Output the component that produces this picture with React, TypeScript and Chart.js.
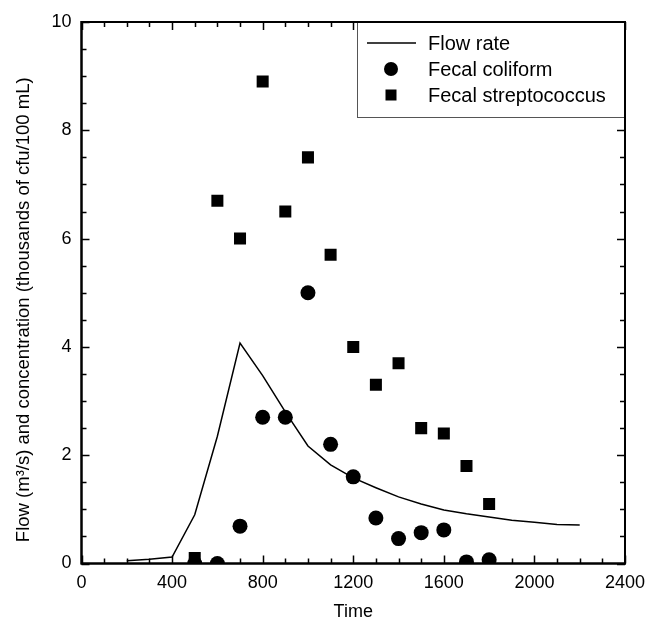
import React, { useEffect, useRef } from "react";
import { Chart, registerables } from "chart.js";

Chart.register(...registerables);

// ---- data ----
const flowTime = [200, 300, 400, 500, 600, 700, 800, 900, 1000, 1100, 1200, 1300, 1400, 1500, 1600, 1700, 1800, 1900, 2000, 2100, 2200];
const flowRate = [0.05, 0.08, 0.12, 0.9, 2.35, 4.07, 3.47, 2.8, 2.17, 1.82, 1.58, 1.4, 1.23, 1.1, 0.99, 0.92, 0.86, 0.8, 0.76, 0.72, 0.71];

const coliTime = [500, 600, 700, 800, 900, 1000, 1100, 1200, 1300, 1400, 1500, 1600, 1700, 1800];
const coliValues = [0.0, 0.0, 0.69, 2.7, 2.7, 5.0, 2.2, 1.6, 0.84, 0.46, 0.57, 0.62, 0.03, 0.07];

const strepTime = [500, 600, 700, 800, 900, 1000, 1100, 1200, 1300, 1400, 1500, 1600, 1700, 1800];
const strepValues = [0.1, 6.7, 6.0, 8.9, 6.5, 7.5, 5.7, 4.0, 3.3, 3.7, 2.5, 2.4, 1.8, 1.1];

const seriesLabels = ["Flow rate", "Fecal coliform", "Fecal streptococcus"];
const xTitle = "Time";
const yTitle = "Flow (m\u00B3/s) and concentration (thousands of cfu/100 mL)";

const xMin = 0, xMax = 2400, xMajor = 400, xMinor = 100;
const yMin = 0, yMax = 10, yMajor = 2, yMinor = 0.5;

const FONT = "'Liberation Sans', Arial, Helvetica, sans-serif";

const toPoints = (xs: number[], ys: number[]) => xs.map((x, i) => ({ x, y: ys[i] }));

function drawFrameAndTicks(chart: any, withTicks: boolean) {
  const { ctx, chartArea: a, scales } = chart;
  const xs = scales.x, ys = scales.y;
  ctx.save();
  ctx.strokeStyle = "#000";
  if (withTicks) {
    ctx.lineWidth = 1.5;
    ctx.beginPath();
    for (let v = xMin; v <= xMax + 1e-9; v += xMinor) {
      const px = Math.round(xs.getPixelForValue(v)) + 0.5;
      const len = Math.abs(v % xMajor) < 1e-6 ? 8 : 5;
      ctx.moveTo(px, a.bottom);
      ctx.lineTo(px, a.bottom - len);
      ctx.moveTo(px, a.top);
      ctx.lineTo(px, a.top + len);
    }
    for (let v = yMin; v <= yMax + 1e-9; v += yMinor) {
      const py = Math.round(ys.getPixelForValue(v)) + 0.5;
      const len = Math.abs(v % yMajor) < 1e-6 ? 8 : 5;
      ctx.moveTo(a.left, py);
      ctx.lineTo(a.left + len, py);
      ctx.moveTo(a.right, py);
      ctx.lineTo(a.right - len, py);
    }
    ctx.stroke();
  }
  ctx.lineWidth = 2;
  ctx.strokeRect(a.left, a.top, a.right - a.left, a.bottom - a.top);
  ctx.restore();
}

const framePlugin = {
  id: "frameTicks",
  beforeDatasetsDraw(chart: any) {
    drawFrameAndTicks(chart, true);
  },
};

const legendPlugin = {
  id: "boxLegend",
  afterDraw(chart: any) {
    const { ctx, chartArea: a } = chart;
    const bw = 268, bh = 95;
    const bx = a.right - bw, by = a.top;
    ctx.save();
    ctx.fillStyle = "#fff";
    ctx.fillRect(bx, by, bw, bh);
    ctx.strokeStyle = "#555";
    ctx.lineWidth = 1;
    ctx.strokeRect(bx + 0.5, by + 0.5, bw, bh);

    const rows = [by + 21, by + 47, by + 73];
    const mx = bx + 34;
    ctx.fillStyle = "#000";
    ctx.strokeStyle = "#000";
    ctx.lineWidth = 1.5;
    ctx.beginPath();
    ctx.moveTo(bx + 10, rows[0]);
    ctx.lineTo(bx + 59, rows[0]);
    ctx.stroke();
    ctx.beginPath();
    ctx.arc(mx, rows[1], 7, 0, Math.PI * 2);
    ctx.fill();
    ctx.fillRect(mx - 5.5, rows[2] - 5.5, 11, 11);

    ctx.font = `20px ${FONT}`;
    ctx.textBaseline = "middle";
    ctx.textAlign = "left";
    const labels = chart.data.datasets.map((d: any) => d.label);
    labels.forEach((t: string, i: number) => ctx.fillText(t, bx + 71, rows[i] + 1));

    // y axis title
    ctx.translate(a.left - 57.5, (a.top + a.bottom) / 2 + 17);
    ctx.rotate(-Math.PI / 2);
    ctx.font = `18.5px ${FONT}`;
    ctx.textAlign = "center";
    ctx.fillText(yTitle, 0, 0);
    ctx.restore();
    drawFrameAndTicks(chart, false);
  },
};

export default function App() {
  const ref = useRef<HTMLCanvasElement | null>(null);

  useEffect(() => {
    if (!ref.current) return;
    const chart = new Chart(ref.current, {
      type: "scatter",
      data: {
        datasets: [
          {
            label: seriesLabels[0],
            data: toPoints(flowTime, flowRate),
            showLine: true,
            borderColor: "#000",
            borderWidth: 1.5,
            pointRadius: 0,
            fill: false,
            tension: 0,
          },
          {
            label: seriesLabels[1],
            data: toPoints(coliTime, coliValues),
            pointStyle: "circle",
            pointRadius: 7.5,
            backgroundColor: "#000",
            borderColor: "#000",
            borderWidth: 0,
          },
          {
            label: seriesLabels[2],
            data: toPoints(strepTime, strepValues),
            pointStyle: "rect",
            pointRadius: 8.5,
            backgroundColor: "#000",
            borderColor: "#000",
            borderWidth: 0,
          },
        ],
      },
      options: {
        animation: false,
        responsive: true,
        maintainAspectRatio: false,
        layout: { padding: { top: 22, right: 24, left: 0, bottom: 0 } },
        plugins: {
          legend: { display: false },
          tooltip: { enabled: false },
        },
        scales: {
          x: {
            type: "linear",
            position: "bottom",
            min: xMin,
            max: xMax,
            grid: { display: false, drawTicks: false },
            border: { display: false },
            ticks: {
              stepSize: xMajor,
              color: "#000",
              padding: 9,
              font: { family: FONT, size: 18 },
              maxRotation: 0,
              callback: (v: any) => String(v),
            },
            title: {
              display: true,
              text: xTitle,
              color: "#000",
              font: { family: FONT, size: 18 },
              padding: { top: 0, bottom: 9 },
            },
            afterFit(s: any) {
              s.height = 68.5;
              s.paddingRight = 0;
              s.paddingLeft = 0;
            },
          },
          y: {
            type: "linear",
            min: yMin,
            max: yMax,
            grid: { display: false, drawTicks: false },
            border: { display: false },
            ticks: {
              stepSize: yMajor,
              color: "#000",
              padding: 10,
              font: { family: FONT, size: 18 },
              callback: (v: any) => String(v),
            },
            title: { display: false },
            afterFit(s: any) {
              s.width = 81.5;
              s.paddingTop = 0;
              s.paddingBottom = 0;
            },
          },
        },
      },
      plugins: [framePlugin, legendPlugin],
    });
    return () => chart.destroy();
  }, []);

  return (
    <div style={{ position: "absolute", left: 0, top: 0, width: 649, height: 632, background: "#fff" }}>
      <canvas ref={ref} />
    </div>
  );
}
